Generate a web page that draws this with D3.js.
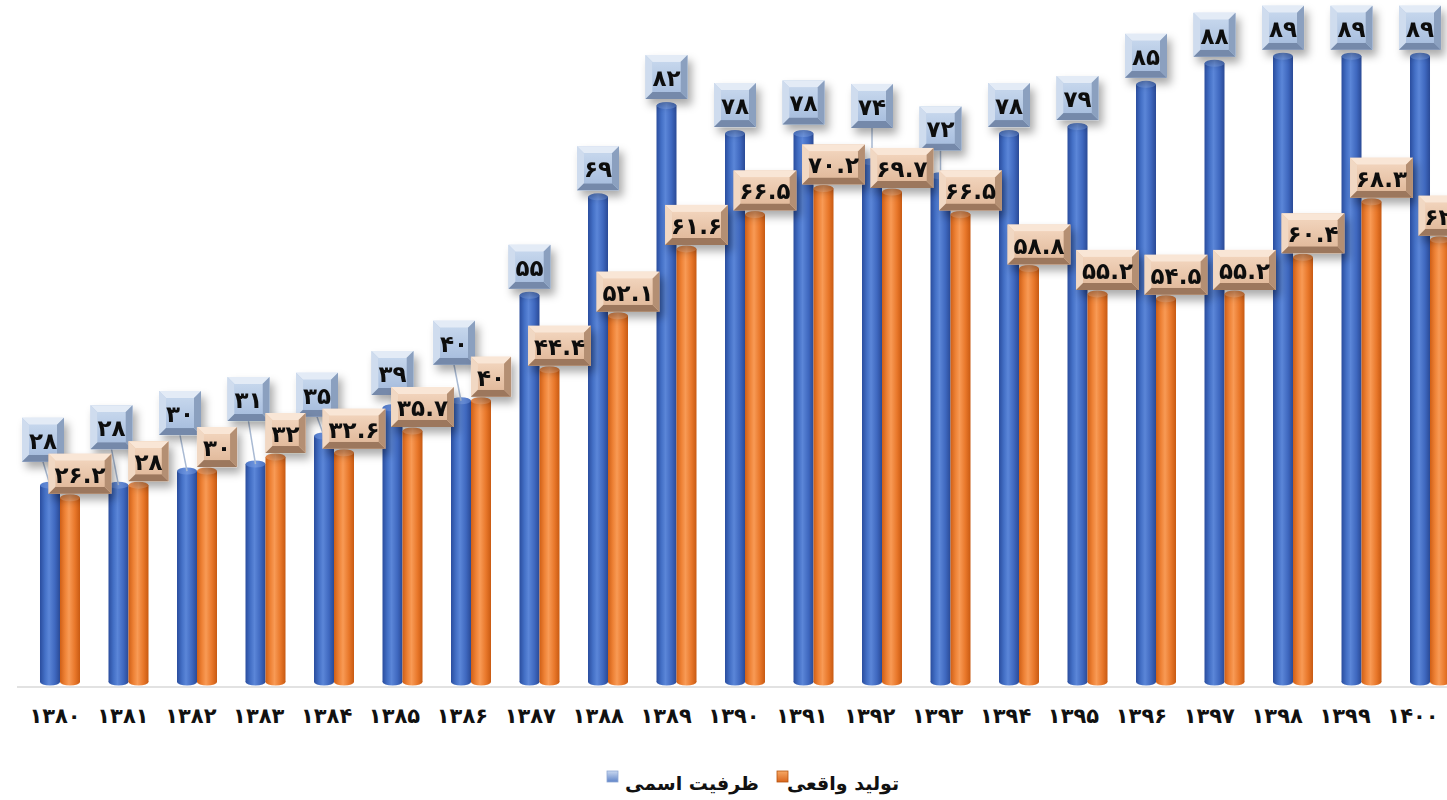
<!DOCTYPE html>
<html>
<head>
<meta charset="utf-8">
<script src="https://cdn.jsdelivr.net/npm/d3@7/dist/d3.min.js"></script>
<style>
  html, body { margin: 0; padding: 0; background: #ffffff; overflow: hidden; }
  svg { display: block; }
  text { font-family: "DejaVu Sans", "Noto Sans", sans-serif; font-weight: bold; fill: #111; }
</style>
</head>
<body>
<svg id="chart" width="1447" height="800"></svg>
<script>
// Years (Solar Hijri) and the two series, in thousand tonnes
const years = ['1380','1381','1382','1383','1384','1385','1386','1387','1388','1389','1390',
               '1391','1392','1393','1394','1395','1396','1397','1398','1399','1400'];
const capacity   = [28, 28, 30, 31, 35, 39, 40, 55, 69, 82, 78, 78, 74, 72, 78, 79, 85, 88, 89, 89, 89];
const production = [26.2, 28, 30, 32, 32.6, 35.7, 40, 44.4, 52.1, 61.6, 66.5, 70.2, 69.7, 66.5,
                    58.8, 55.2, 54.5, 55.2, 60.4, 68.3, 62.9];
const seriesKeys  = ['capacity', 'production'];
const seriesNames = ['ظرفیت اسمی', 'تولید واقعی'];

const faDigits = '۰۱۲۳۴۵۶۷۸۹';
const toFa = s => String(s).replace(/[0-9]/g, d => faDigits[+d]);

const svg = d3.select('#chart');
const defs = svg.append('defs');

// Cylinder shading gradients
function hGrad(id, stops) {
  const g = defs.append('linearGradient').attr('id', id).attr('x1', 0).attr('x2', 1).attr('y1', 0).attr('y2', 0);
  stops.forEach(([o, c]) => g.append('stop').attr('offset', o).attr('stop-color', c));
}
hGrad('gBlue', [[0, '#2a4d9e'], [0.25, '#4470c6'], [0.45, '#5b86d8'], [0.75, '#3f68bf'], [1, '#2a4a96']]);
hGrad('gOrange', [[0, '#cf5f16'], [0.25, '#ee8236'], [0.45, '#f89a55'], [0.75, '#e8772a'], [1, '#c85a12']]);
hGrad('gBlueCap', [[0, '#4d77c9'], [0.5, '#6e95df'], [1, '#4a70c0']]);
hGrad('gOrangeCap', [[0, '#ec8a48'], [0.5, '#f8a66c'], [1, '#e67f3a']]);

function vGrad(id, top, bottom) {
  const g = defs.append('linearGradient').attr('id', id).attr('x1', 0).attr('x2', 0).attr('y1', 0).attr('y2', 1);
  g.append('stop').attr('offset', 0).attr('stop-color', top);
  g.append('stop').attr('offset', 1).attr('stop-color', bottom);
}
vGrad('gBlueFace', '#c5d6ec', '#a9bfdf');
vGrad('gOrangeFace', '#f1d3bb', '#e2bb9d');
vGrad('gLegBlue', '#c9d8f0', '#5f84c8');
vGrad('gLegOrange', '#f7a865', '#d9651c');

const shadow = defs.append('filter').attr('id', 'shadow')
  .attr('x', '-30%').attr('y', '-30%').attr('width', '170%').attr('height', '170%');
shadow.append('feDropShadow').attr('dx', 4).attr('dy', 6).attr('stdDeviation', 4)
  .attr('flood-color', '#000').attr('flood-opacity', 0.33);

// Scales
const x = d3.scaleBand().domain(years).range([17, 1473]).paddingInner(0).paddingOuter(0.1277);
const xSeries = d3.scaleBand().domain(seriesKeys).range([0, 40]);
const y = d3.scaleLinear().domain([0, 97]).range([682, 0]);
const xTicks = x.copy().range([12.4, 1455.6]);

const groupLeft = yr => x(yr) + x.bandwidth() / 2 - 20;

const data = years.map((yr, i) => ({ year: yr, capacity: capacity[i], production: production[i] }));

// Baseline
svg.append('line').attr('x1', 17).attr('x2', 1447).attr('y1', 687).attr('y2', 687)
  .attr('stroke', '#d9d9d9').attr('stroke-width', 1.5);

// Cylinders
const bw = xSeries.bandwidth();
const capRy = 3.5;
seriesKeys.forEach(key => {
  const fill = key === 'capacity' ? 'url(#gBlue)' : 'url(#gOrange)';
  const capFill = key === 'capacity' ? 'url(#gBlueCap)' : 'url(#gOrangeCap)';
  const g = svg.append('g').attr('class', 'bars-' + key);
  const bars = g.selectAll('g').data(data).join('g')
    .attr('transform', d => `translate(${groupLeft(d.year) + xSeries(key)},0)`);
  bars.append('ellipse').attr('cx', bw / 2).attr('cy', y(0)).attr('rx', bw / 2).attr('ry', capRy).attr('fill', fill);
  bars.append('rect').attr('x', 0).attr('width', bw)
    .attr('y', d => y(d[key])).attr('height', d => y(0) - y(d[key])).attr('fill', fill);
  bars.append('ellipse').attr('cx', bw / 2).attr('cy', d => y(d[key])).attr('rx', bw / 2).attr('ry', capRy)
    .attr('fill', capFill);
});

// Bevelled label box
function bevelBox(g, w, h, b, c) {
  g.append('rect').attr('x', 0).attr('y', 0).attr('width', w).attr('height', h).attr('fill', c.face);
  const poly = (pts, col) => g.append('polygon').attr('points', pts.map(p => p.join(',')).join(' ')).attr('fill', col);
  poly([[0, 0], [w, 0], [w - b, b], [b, b]], c.top);
  poly([[0, 0], [b, b], [b, h - b], [0, h]], c.left);
  poly([[0, h], [b, h - b], [w - b, h - b], [w, h]], c.bottom);
  poly([[w, 0], [w, h], [w - b, h - b], [w - b, b]], c.right);
  g.append('rect').attr('x', b).attr('y', b).attr('width', w - 2 * b).attr('height', h - 2 * b).attr('fill', c.faceGrad);
}
const blueBox = { face: '#b7cbe6', faceGrad: 'url(#gBlueFace)', top: '#e3ebf6', left: '#cfdcee', bottom: '#7489aa', right: '#8ba0bf' };
const orangeBox = { face: '#ecc8ab', faceGrad: 'url(#gOrangeFace)', top: '#f9e6d6', left: '#f1d8c3', bottom: '#9c775d', right: '#b48f73' };

const labelFont = 23;
const measure = svg.append('text').attr('font-size', labelFont).attr('visibility', 'hidden');
const textW = s => { measure.text(s); return measure.node().getComputedTextLength(); };

// Orange (production) labels sit just above the bar top, nudged right
const oLabels = data.map(d => {
  const txt = toFa(d.production);
  const w = Math.max(36, textW(txt) + 12);
  const h = 40;
  const cx = groupLeft(d.year) + xSeries('production') + bw / 2 + 10;
  const bottom = y(d.production) - 4;
  return { d, txt, w, h, x: cx - w / 2, y: bottom - h };
});

// Blue (capacity) labels above the bar, lifted over the orange label when crowded
const bLabels = data.map((d, i) => {
  const txt = toFa(d.capacity);
  const w = 42, h = 44;
  const top = y(d.capacity) - capRy;
  const oTop = oLabels[i].y;
  const bottom = oTop > top - 15 ? Math.min(top - 3, oTop - 20) : Math.min(top - 3, oTop + 8);
  const lifted = top - bottom > 10;
  const barCx = groupLeft(d.year) + xSeries('capacity') + bw / 2;
  const cx = barCx - (lifted && oTop < top - 15 ? 7 : 0);
  return { d, txt, w, h, x: cx - w / 2, y: bottom - h, lifted, barCx, barTop: top + capRy, cx };
});

// Leader lines
svg.append('g').selectAll('line').data(bLabels.filter(l => l.lifted)).join('line')
  .attr('x1', l => l.cx).attr('y1', l => l.y + l.h)
  .attr('x2', l => l.barCx).attr('y2', l => l.barTop)
  .attr('stroke', '#a9bad3').attr('stroke-width', 1.5);

function drawLabels(list, colors, cls) {
  const g = svg.append('g').attr('class', cls);
  list.forEach(l => {
    const lg = g.append('g').attr('transform', `translate(${l.x},${l.y})`).attr('filter', 'url(#shadow)');
    bevelBox(lg, l.w, l.h, 7, colors);
    lg.append('text').attr('x', l.w / 2).attr('y', l.h / 2 + 1)
      .attr('text-anchor', 'middle').attr('dominant-baseline', 'central')
      .attr('direction', 'ltr').attr('font-size', labelFont).text(l.txt);
  });
}
drawLabels(bLabels, blueBox, 'labels-capacity');
drawLabels(oLabels, orangeBox, 'labels-production');

// Year axis
const axis = d3.axisBottom(xTicks).tickSize(0).tickPadding(21).tickFormat(toFa);
const ax = svg.append('g').attr('transform', 'translate(0,687)').call(axis);
ax.select('.domain').remove();
ax.selectAll('text').attr('font-size', 21).attr('font-family', '"DejaVu Sans", sans-serif')
  .attr('font-weight', 'bold').attr('fill', '#111');

// Legend
const legend = svg.append('g').attr('class', 'legend');
const legendItems = [
  { name: seriesNames[0], sq: 607, tx: 692, fill: 'url(#gLegBlue)', stroke: '#8fa8d4' },
  { name: seriesNames[1], sq: 777, tx: 843, fill: 'url(#gLegOrange)', stroke: '#b5540f' }
];
legendItems.forEach(it => {
  legend.append('rect').attr('x', it.sq).attr('y', 771).attr('width', 11).attr('height', 11)
    .attr('fill', it.fill).attr('stroke', it.stroke).attr('stroke-width', 0.8);
  legend.append('text').attr('x', it.tx).attr('y', 783).attr('text-anchor', 'middle')
    .attr('dominant-baseline', 'central').attr('font-size', 19).text(it.name);
});
</script>
</body>
</html>
